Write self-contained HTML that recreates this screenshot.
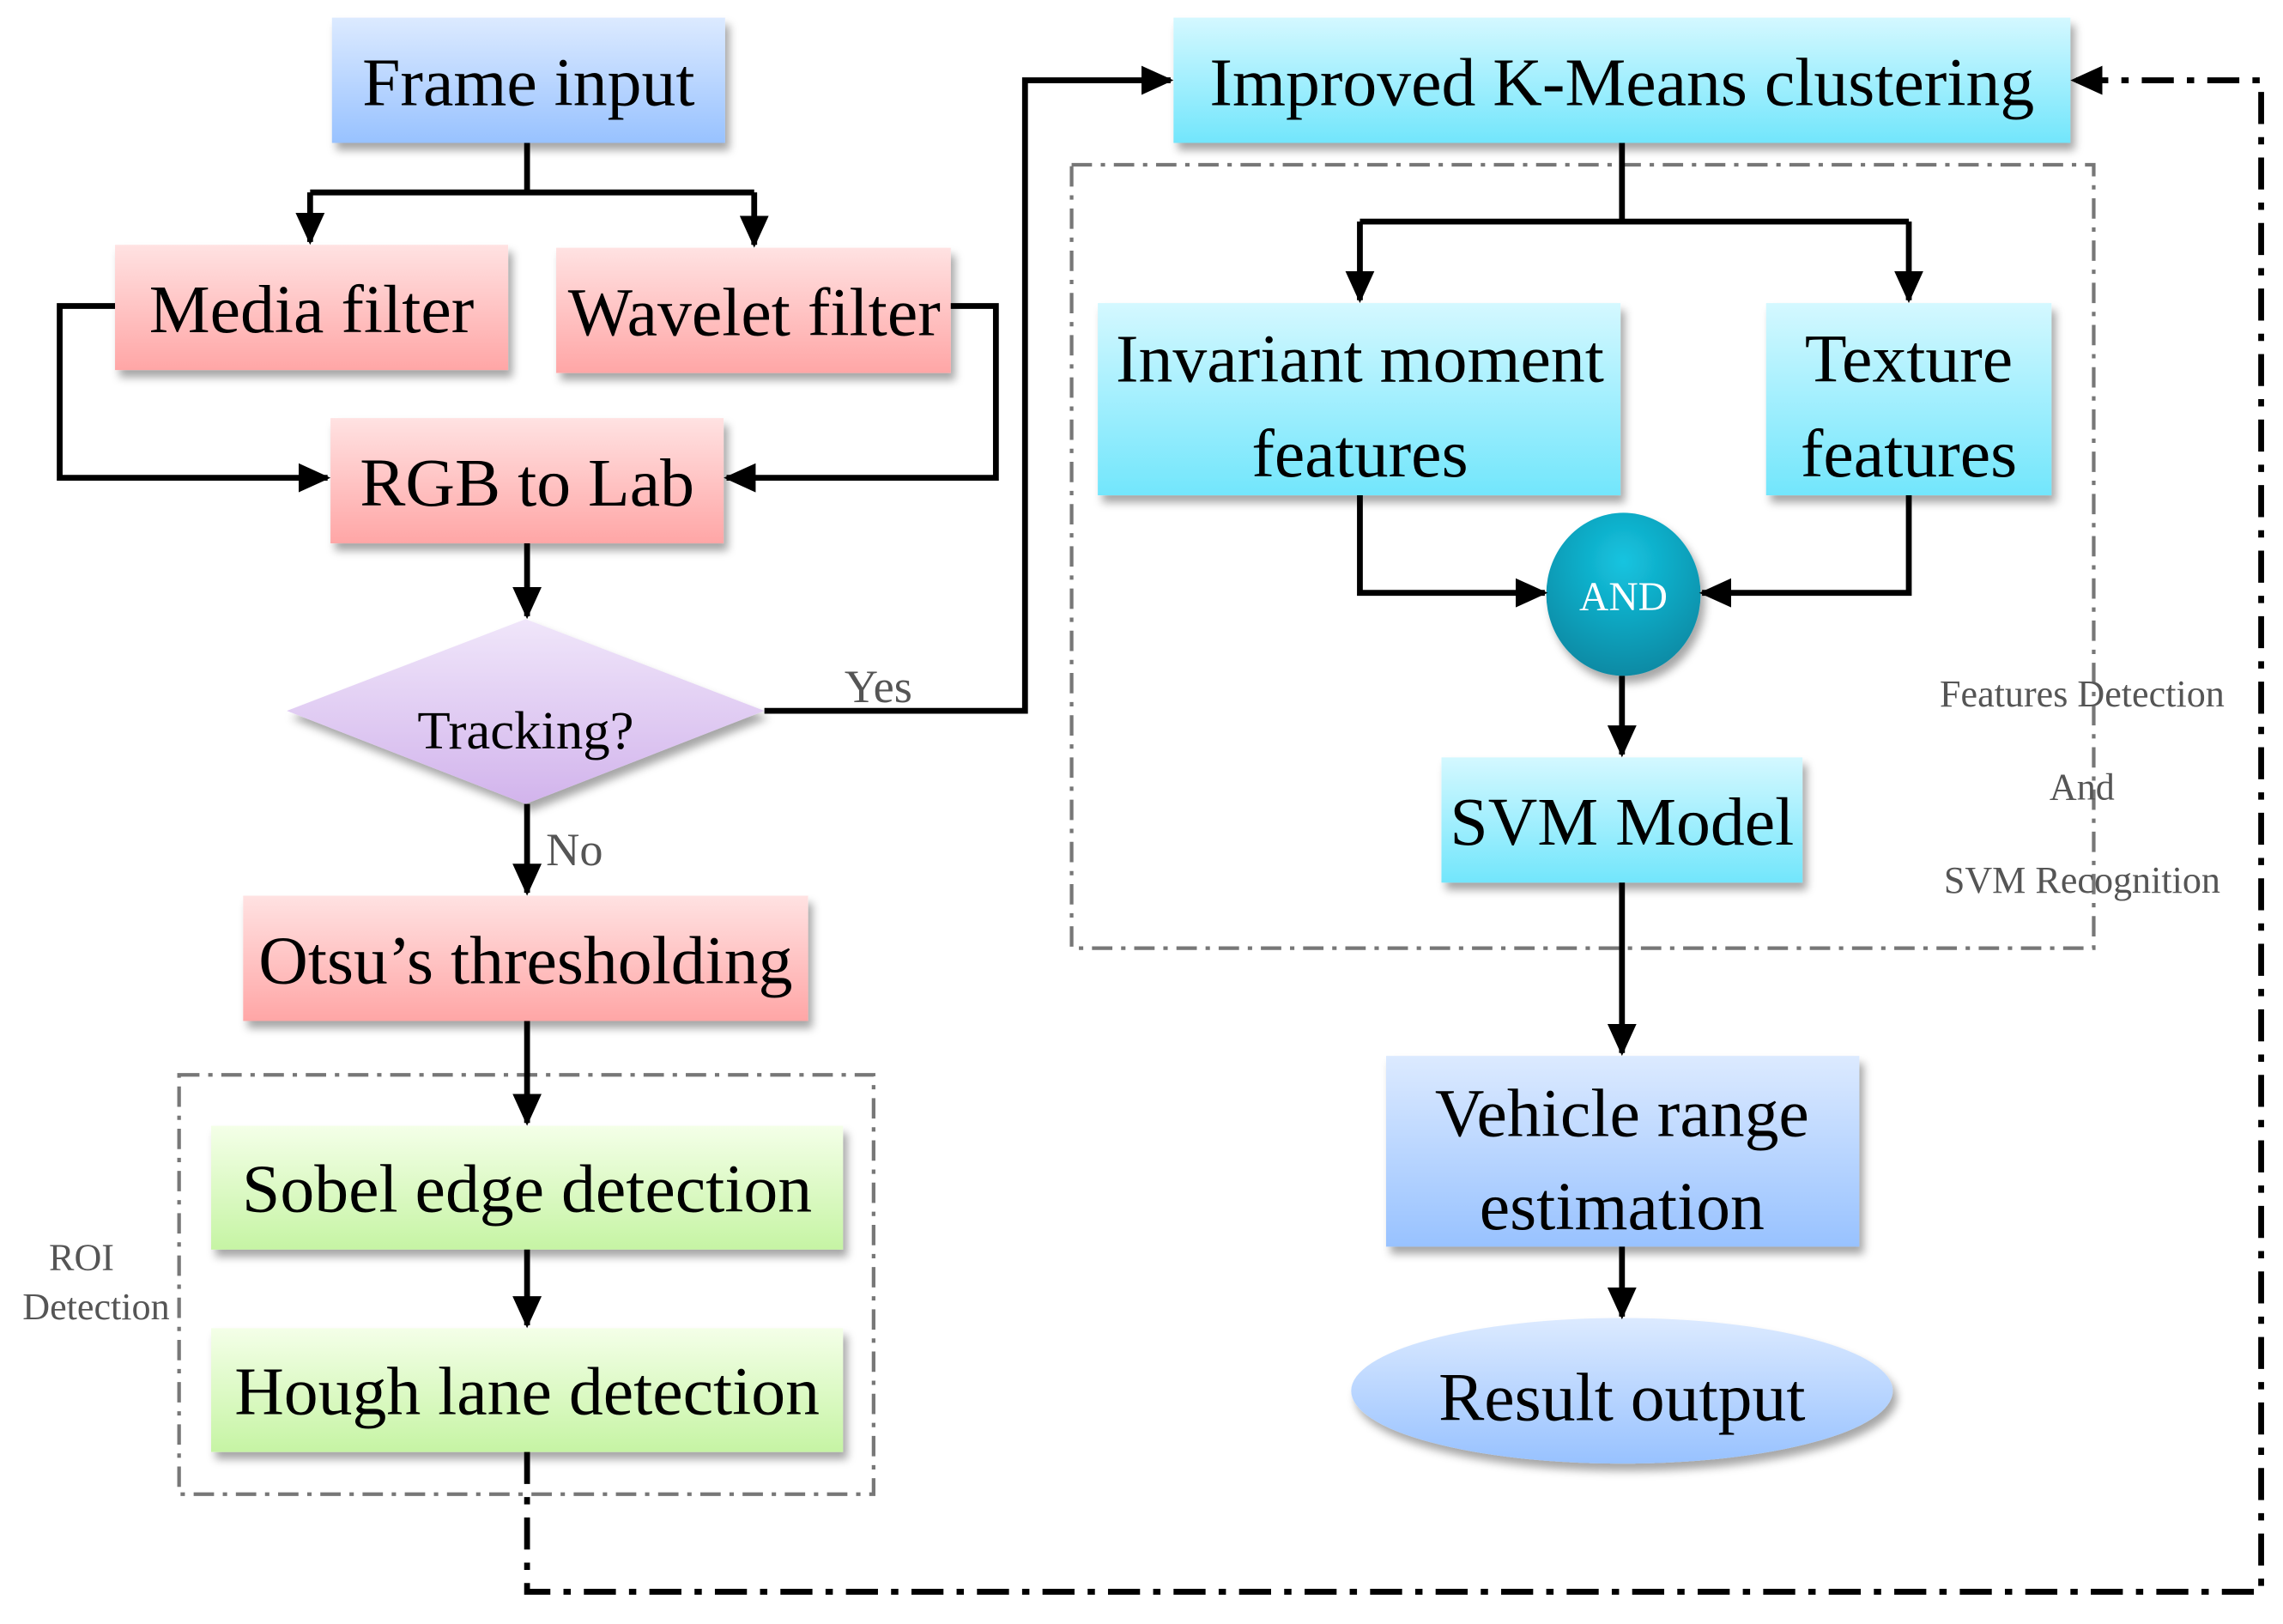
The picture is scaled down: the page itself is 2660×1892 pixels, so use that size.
<!DOCTYPE html>
<html><head><meta charset="utf-8"><style>
html,body{margin:0;padding:0;background:#fff}
svg{display:block}
text{font-family:"Liberation Serif",serif}
</style></head><body>
<svg width="2660" height="1892" viewBox="0 0 1568 1115" xmlns="http://www.w3.org/2000/svg">
<defs>
<linearGradient id="blue" x1="0" y1="0" x2="0" y2="1"><stop offset="0" stop-color="#dceaff"/><stop offset="1" stop-color="#98c2ff"/></linearGradient>
<linearGradient id="pink" x1="0" y1="0" x2="0" y2="1"><stop offset="0" stop-color="#ffe2e2"/><stop offset="1" stop-color="#ffa6a6"/></linearGradient>
<linearGradient id="green" x1="0" y1="0" x2="0" y2="1"><stop offset="0" stop-color="#f4ffe8"/><stop offset="1" stop-color="#c6f4a4"/></linearGradient>
<linearGradient id="cyan" x1="0" y1="0" x2="0" y2="1"><stop offset="0" stop-color="#d4f8ff"/><stop offset="1" stop-color="#72e6fc"/></linearGradient>
<linearGradient id="purple" x1="0" y1="0" x2="0" y2="1"><stop offset="0" stop-color="#f0e6fa"/><stop offset="1" stop-color="#d2b4ec"/></linearGradient>
<radialGradient id="teal" cx="0.5" cy="0.3" r="0.7"><stop offset="0" stop-color="#14c4e0"/><stop offset="1" stop-color="#0a8aa4"/></radialGradient>
<filter id="sh" x="-10%" y="-10%" width="125%" height="135%"><feDropShadow dx="3" dy="5" stdDeviation="3" flood-color="#000" flood-opacity="0.35"/></filter>
<marker id="a" markerWidth="22" markerHeight="20" refX="20" refY="10" orient="auto" markerUnits="userSpaceOnUse" viewBox="0 0 22 20"><path d="M0,0 L22,10 L0,20 z" fill="#000"/></marker>
</defs>

<rect x="123" y="738" width="477" height="288" fill="none" stroke="#777" stroke-width="2.5" stroke-dasharray="14,6,3,6"/>
<rect x="736" y="113" width="702" height="538" fill="none" stroke="#777" stroke-width="2.5" stroke-dasharray="14,6,3,6"/>

<g filter="url(#sh)">
<rect x="228" y="12" width="270" height="86" fill="url(#blue)"/>
<rect x="79" y="168" width="270" height="86" fill="url(#pink)"/>
<rect x="382" y="170" width="271" height="86" fill="url(#pink)"/>
<rect x="227" y="287" width="270" height="86" fill="url(#pink)"/>
<polygon points="361,425 525,488 361,552 197,488" fill="url(#purple)"/>
<rect x="167" y="615" width="388" height="86" fill="url(#pink)"/>
<rect x="145" y="773" width="434" height="85" fill="url(#green)"/>
<rect x="145" y="912" width="434" height="85" fill="url(#green)"/>
<rect x="806" y="12" width="616" height="86" fill="url(#cyan)"/>
<rect x="754" y="208" width="359" height="132" fill="url(#cyan)"/>
<rect x="1213" y="208" width="196" height="132" fill="url(#cyan)"/>
<ellipse cx="1115" cy="408" rx="53" ry="56" fill="url(#teal)"/>
<rect x="990" y="520" width="248" height="86" fill="url(#cyan)"/>
<rect x="952" y="725" width="325" height="131" fill="url(#blue)"/>
<ellipse cx="1114" cy="955" rx="186" ry="50" fill="url(#blue)"/>
</g>

<g font-size="47" text-anchor="middle" fill="#000">
<text x="363" y="72">Frame input</text>
<text x="214" y="228">Media filter</text>
<text x="518" y="230">Wavelet filter</text>
<text x="362" y="347">RGB to Lab</text>
<text x="361" y="514" font-size="37">Tracking?</text>
<text x="361" y="675">Otsu’s thresholding</text>
<text x="362" y="832">Sobel edge detection</text>
<text x="362" y="971">Hough lane detection</text>
<text x="1114" y="72">Improved K-Means clustering</text>
<text x="934" y="262">Invariant moment</text>
<text x="934" y="327">features</text>
<text x="1311" y="262">Texture</text>
<text x="1311" y="327">features</text>
<text x="1114" y="580">SVM Model</text>
<text x="1114" y="780">Vehicle range</text>
<text x="1114" y="844">estimation</text>
<text x="1114" y="975">Result output</text>
</g>
<text x="1115" y="419" font-size="28" fill="#fff" text-anchor="middle">AND</text>
<g font-size="32" fill="#555">
<text x="580" y="482">Yes</text>
<text x="375" y="594">No</text>
</g>
<g font-size="26" fill="#555" text-anchor="middle">
<text x="1430" y="485">Features Detection</text>
<text x="1430" y="549">And</text>
<text x="1430" y="613">SVM Recognition</text>
<text x="56" y="872">ROI</text>
<text x="66" y="906">Detection</text>
</g>

<g stroke="#000" stroke-width="4" fill="none">
<path d="M362,98 V132"/>
<path d="M213,132 H518"/>
<path d="M213,132 V166" marker-end="url(#a)"/>
<path d="M518,132 V168" marker-end="url(#a)"/>
<path d="M79,210 H41 V328 H225" marker-end="url(#a)"/>
<path d="M653,210 H684 V328 H499" marker-end="url(#a)"/>
<path d="M362,373 V423" marker-end="url(#a)"/>
<path d="M525,488 H704 V55 H804" marker-end="url(#a)"/>
<path d="M362,552 V613" marker-end="url(#a)"/>
<path d="M362,701 V771" marker-end="url(#a)"/>
<path d="M362,858 V910" marker-end="url(#a)"/>
<path d="M1114,98 V152"/>
<path d="M934,152 H1311"/>
<path d="M934,152 V206" marker-end="url(#a)"/>
<path d="M1311,152 V206" marker-end="url(#a)"/>
<path d="M934,340 V407 H1061" marker-end="url(#a)"/>
<path d="M1311,340 V407 H1169" marker-end="url(#a)"/>
<path d="M1114,464 V518" marker-end="url(#a)"/>
<path d="M1114,606 V723" marker-end="url(#a)"/>
<path d="M1114,856 V904" marker-end="url(#a)"/>
<path d="M362,997 V1093 H1553 V55 H1424" stroke-dasharray="22,9,5,9" marker-end="url(#a)"/>
</g>
</svg>
</body></html>
